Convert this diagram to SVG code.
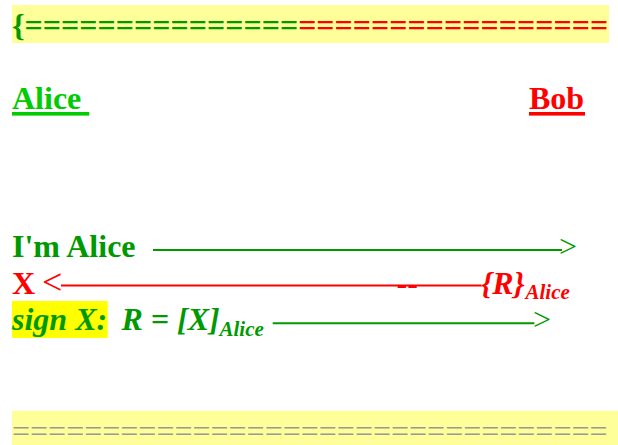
<svg xmlns="http://www.w3.org/2000/svg" width="618" height="445" viewBox="0 0 618 445">
  <style>
    text { font-family: "Liberation Serif", "Times New Roman", serif; font-size: 32px; }
    .b { font-weight: bold; }
    .bi { font-weight: bold; font-style: italic; }
    .g { fill: #009900; }
    .lg { fill: #00cc00; }
    .r { fill: #ff0000; }
    .sub { font-size: 21px; }
    .head { font-weight: normal; }
    .gl { stroke: #009900; stroke-width: 2; }
    .rl { stroke: #ff0000; stroke-width: 2; }
  </style>

  <!-- top banner -->
  <g id="top-banner">
    <rect x="12" y="5" width="597" height="38" fill="#ffff99"/>
    <text class="b" x="12" y="36"><tspan class="g">{===============</tspan><tspan class="r">=================</tspan></text>
  </g>

  <!-- participants -->
  <g id="alice">
    <text class="b lg" x="12" y="109.3">Alice</text>
    <rect x="12" y="112" width="77.3" height="3.6" fill="#00cc00"/>
  </g>
  <g id="bob">
    <text class="b r" x="529" y="109.3">Bob</text>
    <rect x="529" y="112" width="56" height="3.6" fill="#ff0000"/>
  </g>

  <!-- message labels -->
  <g id="msg-hello">
    <text class="b g" x="12" y="256.8">I'm Alice</text>
  </g>
  <g id="msg-challenge">
    <text class="b r" x="12" y="293.6">X</text>
    <text class="bi r" x="481" y="293.6">{R}</text>
    <text class="bi r sub" x="525.5" y="298.5">Alice</text>
  </g>
  <g id="msg-sign">
    <rect x="12" y="301" width="95.7" height="37" fill="#ffff00"/>
    <text class="bi g" x="12" y="330.4">sign X:</text>
    <text class="bi g" x="121.5" y="330.4">R = [X]</text>
    <text class="bi g sub" x="219.5" y="335.5">Alice</text>
  </g>

  <!-- arrows -->
  <g id="connectors">
    <line class="gl" x1="153" y1="250" x2="562" y2="250"/>
    <text class="g" x="559" y="256.8">&gt;</text>

    <line class="rl" x1="61" y1="285.5" x2="481.5" y2="285.5"/>
    <text class="r" x="42" y="293.8" style="font-size:36px">&lt;</text>
    <text class="b r" x="396.6" y="293.6">--</text>

    <line class="gl" x1="272.7" y1="323.3" x2="534.4" y2="323.3"/>
    <text class="g" x="533" y="330.4">&gt;</text>
  </g>

  <!-- bottom banner -->
  <g id="bottom-banner">
    <rect x="12" y="410.7" width="606" height="34.3" fill="#ffff99"/>
    <text x="12" y="441.6" fill="#999999">=================================</text>
  </g>
</svg>
